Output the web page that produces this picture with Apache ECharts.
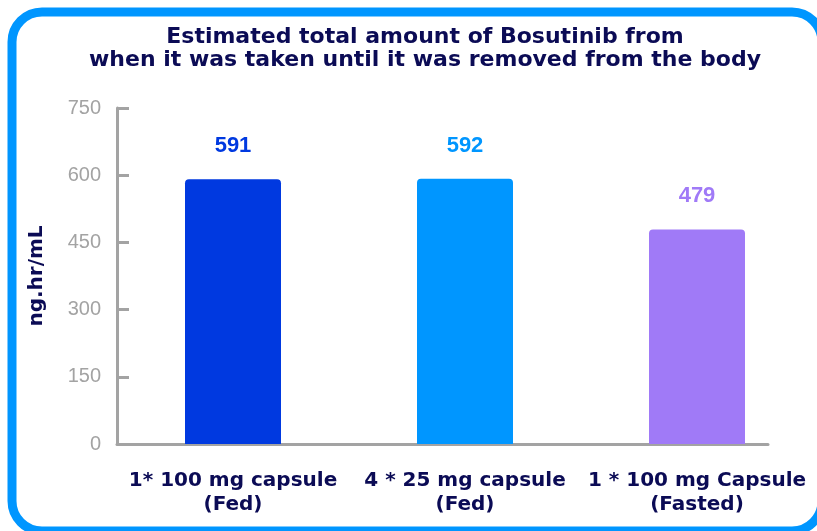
<!DOCTYPE html>
<html>
<head>
<meta charset="utf-8">
<script src="https://cdn.jsdelivr.net/npm/echarts@6/dist/echarts.min.js"></script>
<style>html,body{margin:0;padding:0;background:#fff;}#c{width:817px;height:531px;}</style>
</head>
<body>
<div id="c"></div>
<script>
var categories = ['1* 100 mg capsule\n(Fed)', '4 * 25 mg capsule\n(Fed)', '1 * 100 mg Capsule\n(Fasted)'];
var values = [591, 592, 479];
var barColors = ['#0039E0', '#0096FF', '#A07AF7'];
var yTicks = [0, 150, 300, 450, 600, 750];
var titleText = 'Estimated total amount of Bosutinib from\nwhen it was taken until it was removed from the body';
var yName = 'ng.hr/mL';

var chart = echarts.init(document.getElementById('c'), null, {renderer: 'canvas'});
var navy = '#0B0B55';
var gray = '#A3A3A3';
var font = 'Liberation Sans, Arial, sans-serif';
var wide = 'DejaVu Sans, Verdana, sans-serif';

chart.setOption({
  backgroundColor: '#ffffff',
  animation: false,
  graphic: [{
    type: 'rect', z: -1, silent: true,
    shape: {x: 12, y: 12, width: 810, height: 519, r: 30},
    style: {fill: 'none', stroke: '#0096FF', lineWidth: 9}
  }],
  title: {
    text: titleText,
    left: 420, top: 21, textAlign: 'center',
    textStyle: {color: navy, fontFamily: wide, fontWeight: 'bold', fontSize: 22, lineHeight: 23}
  },
  grid: [
    {left: 117, right: 4, top: 108, bottom: 87},
    {left: 117, right: 49, top: 108, bottom: 87}
  ],
  xAxis: [{
    type: 'category', gridIndex: 0, data: categories,
    axisLine: {show: false}, axisTick: {show: false},
    axisLabel: {color: navy, fontFamily: wide, fontWeight: 'bold', fontSize: 20, lineHeight: 24, margin: 25, interval: 0}
  }, {
    type: 'value', gridIndex: 1, min: 0, max: 1,
    axisLine: {show: true, lineStyle: {color: gray, width: 3}},
    axisTick: {show: false}, axisLabel: {show: false}, splitLine: {show: false}
  }],
  yAxis: [{
    type: 'value', gridIndex: 0, min: yTicks[0], max: yTicks[yTicks.length - 1], interval: 150,
    name: yName, nameLocation: 'middle', nameGap: 70, nameRotate: 90,
    nameTextStyle: {color: navy, fontFamily: wide, fontWeight: 'bold', fontSize: 20},
    axisLine: {show: true, lineStyle: {color: gray, width: 3}},
    axisTick: {show: true, inside: true, length: 12, lineStyle: {color: gray, width: 3}},
    axisLabel: {color: gray, fontFamily: font, fontSize: 20, margin: 16},
    splitLine: {show: false}
  }, {
    type: 'value', gridIndex: 1, min: 0, max: 1, show: false
  }],
  series: [{
    type: 'bar', xAxisIndex: 0, yAxisIndex: 0,
    barWidth: 96,
    data: values.map(function (v, i) {
      return {
        value: v,
        itemStyle: {color: barColors[i], borderRadius: [4, 4, 0, 0]},
        label: {color: barColors[i]}
      };
    }),
    label: {show: true, position: 'top', distance: 22, fontFamily: font, fontWeight: 'bold', fontSize: 22}
  }]
});
</script>
</body>
</html>
